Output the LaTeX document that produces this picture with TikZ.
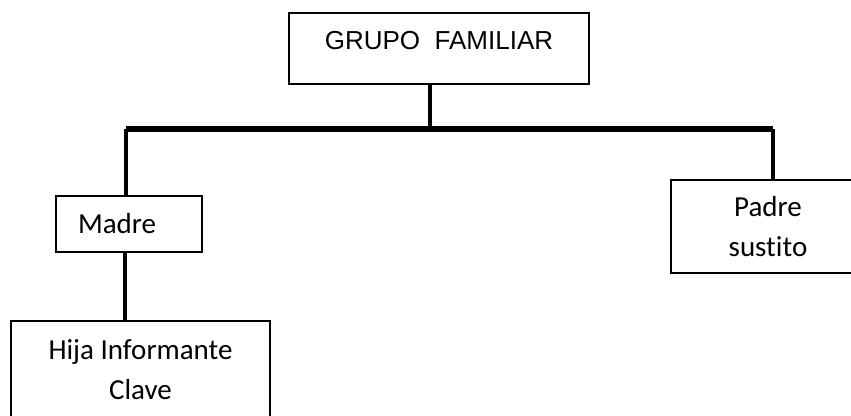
\documentclass[tikz,border=0pt]{standalone}
\usepackage{fontspec}
\setmainfont[Ligatures=NoCommon]{Carlito}
\newfontfamily\arialfont{Liberation Sans}
\usetikzlibrary{positioning}
\tikzset{pbox/.style={draw, line width=1.6pt, inner sep=0, align=center, font=\fontsize{29}{40}\selectfont}}
\tikzset{conn/.style={draw, line width=3.6pt}}
\tikzset{busline/.style={draw, line width=6pt}}

\begin{document}
\begin{tikzpicture}[x=1pt, y=-1pt]
    \useasboundingbox (0,0) rectangle (851,415);
    \clip (0,0) rectangle (851,415);
    \fill[white] (0,0) rectangle (851,415);

    \node[pbox, minimum width=300pt, minimum height=71pt, font=\arialfont\fontsize{26}{30}\selectfont] (grupo) at (439,48.5) {\raisebox{8pt}[\height][\depth]{GRUPO\ \ FAMILIAR}};
    \node[pbox, minimum width=146pt, minimum height=56pt, text width=102pt, inner xsep=22pt, align=left] (madre) at (129,224) {Madre};
    \node[pbox, minimum width=194pt, minimum height=93pt] (padre) at (768,226.5) {Padre\\sustito};
    \node[pbox, minimum width=259pt, minimum height=98pt] (hija) at (140.5,370) {Hija Informante\\Clave};

    \coordinate (busL) at (126,129);
    \coordinate (busR) at (773,129);

    \draw[busline] (busL) -- (busR);
    \draw[conn] ([xshift=-9pt]grupo.south) -- ([xshift=-9pt]grupo.south |- busL);
    \draw[conn] (busL) -- (busL |- madre.north);
    \draw[conn] (busR) -- (busR |- padre.north);
    \draw[conn] ([xshift=-4pt]madre.south) -- ([xshift=-4pt]madre.south |- hija.north);
\end{tikzpicture}
\end{document}
